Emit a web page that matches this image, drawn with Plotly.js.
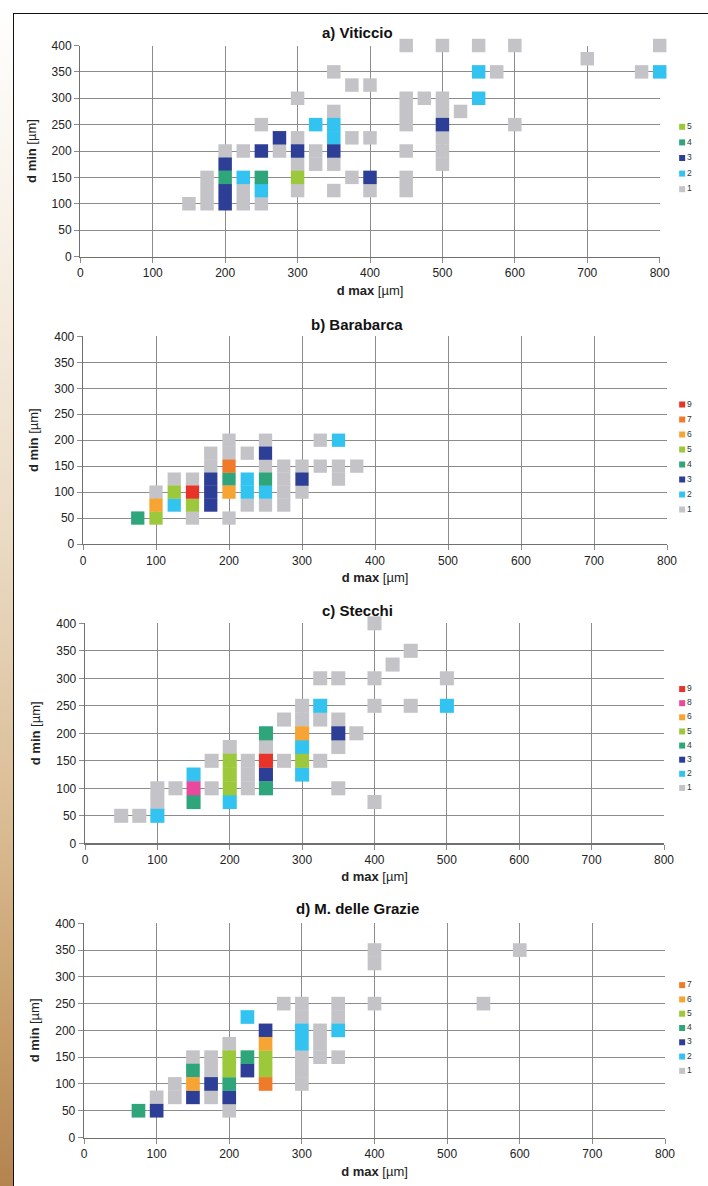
<!DOCTYPE html>
<html>
<head>
<meta charset="utf-8">
<script src="https://cdn.plot.ly/plotly-3.0.1.min.js"></script>
<style>
html,body{margin:0;padding:0;background:#fff;}
#wrap{position:relative;width:708px;height:1186px;overflow:hidden;background:#fff;}
#strip{position:absolute;left:0;top:0;width:14px;height:1186px;
  background:linear-gradient(to bottom,#ffffff 0%,#f7f0e6 20%,#eadbc4 45%,#d9bb92 70%,#c49a66 88%,#b4844f 100%);}
#frame{position:absolute;left:13px;top:13px;width:700px;height:1180px;border-left:1.5px solid #111;border-top:1.5px solid #111;background:#fff;}
#chart{position:absolute;left:0;top:0;width:708px;height:1186px;}
</style>
</head>
<body>
<div id="wrap"><div id="strip"></div><div id="frame"></div><div id="chart"></div></div>
<script>
// ---------------- DATA ----------------
// count classes and their colours
const countClasses = [1, 2, 3, 4, 5, 6, 7, 8, 9];
const countColors = ['#c4c4c8', '#33c3f0', '#2d3e96', '#2ea57b', '#9cc83c', '#f6a434', '#ef7a2a', '#e8499c', '#e83329'];

// a) Viticcio
const viticcioDmax = [150,175,175,175,200,225,225,225,250,250,275,300,300,300,300,325,325,350,350,350,350,375,375,375,400,400,400,450,450,450,450,450,450,450,475,500,500,500,500,500,500,525,550,575,600,600,700,775,800,
  225,250,325,350,350,550,550,800,
  200,200,200,250,275,300,350,400,500,
  200,250,
  300];
const viticcioDmin = [100,100,125,150,200,200,125,100,250,100,200,300,225,175,125,200,175,350,275,175,125,325,225,150,325,225,125,400,300,275,250,200,150,125,300,400,300,275,225,200,175,275,400,350,400,250,375,350,400,
  150,125,250,250,225,350,300,350,
  175,125,100,200,225,200,200,150,250,
  150,150,
  150];
const viticcioCount = [1,1,1,1,1,1,1,1,1,1,1,1,1,1,1,1,1,1,1,1,1,1,1,1,1,1,1,1,1,1,1,1,1,1,1,1,1,1,1,1,1,1,1,1,1,1,1,1,1,
  2,2,2,2,2,2,2,2,
  3,3,3,3,3,3,3,3,3,
  4,4,
  5];
const viticcioLegend = [1, 2, 3, 4, 5];

// b) Barabarca
const barabarcaDmax = [100,125,150,150,175,175,200,200,200,225,225,250,250,250,275,275,275,275,300,300,325,325,350,350,375,
  125,225,225,250,350,
  175,175,175,250,300,
  75,200,250,
  100,125,150,
  100,200,
  200,
  150];
const barabarcaDmin = [100,125,125,50,175,150,200,175,50,175,75,200,150,75,150,125,100,75,150,100,200,150,150,125,150,
  75,125,100,100,200,
  125,100,75,175,125,
  50,125,125,
  50,100,75,
  75,100,
  150,
  100];
const barabarcaCount = [1,1,1,1,1,1,1,1,1,1,1,1,1,1,1,1,1,1,1,1,1,1,1,1,1,
  2,2,2,2,2,
  3,3,3,3,3,
  4,4,4,
  5,5,5,
  6,6,
  7,
  9];
const barabarcaLegend = [1, 2, 3, 4, 5, 6, 7, 9];

// c) Stecchi
const stecchiDmax = [50,75,100,100,125,175,175,200,225,225,225,250,275,275,300,300,325,325,325,350,350,350,350,375,400,400,400,400,425,450,450,500,
  100,150,200,300,300,325,500,
  250,350,
  150,250,250,
  200,200,200,300,
  300,
  150,
  250];
const stecchiDmin = [50,50,100,75,100,150,100,175,150,125,100,175,225,150,250,225,300,225,150,300,225,175,100,200,400,300,250,75,325,350,250,300,
  50,125,75,175,125,250,250,
  125,200,
  75,200,100,
  150,125,100,150,
  200,
  100,
  150];
const stecchiCount = [1,1,1,1,1,1,1,1,1,1,1,1,1,1,1,1,1,1,1,1,1,1,1,1,1,1,1,1,1,1,1,1,
  2,2,2,2,2,2,2,
  3,3,
  4,4,4,
  5,5,5,5,
  6,
  8,
  9];
const stecchiLegend = [1, 2, 3, 4, 5, 6, 8, 9];

// d) M. delle Grazie
const grazieDmax = [100,125,125,150,175,175,175,200,200,275,300,300,300,300,300,325,325,325,350,350,350,400,400,400,550,600,
  225,300,300,350,
  100,150,175,200,225,250,
  75,150,200,225,
  200,200,250,250,
  150,250,
  250];
const grazieDmin = [75,100,75,150,150,125,75,175,50,250,250,225,150,125,100,200,175,150,250,225,150,350,325,250,250,350,
  225,200,175,200,
  50,75,100,75,125,200,
  50,125,100,150,
  150,125,150,125,
  100,175,
  100];
const grazieCount = [1,1,1,1,1,1,1,1,1,1,1,1,1,1,1,1,1,1,1,1,1,1,1,1,1,1,
  2,2,2,2,
  3,3,3,3,3,3,
  4,4,4,4,
  5,5,5,5,
  6,6,
  7];
const grazieLegend = [1, 2, 3, 4, 5, 6, 7];

const panelTitles = ['a) Viticcio', 'b) Barabarca', 'c) Stecchi', 'd) M. delle Grazie'];
const xTickVals = [0, 100, 200, 300, 400, 500, 600, 700, 800];
const yTickVals = [0, 50, 100, 150, 200, 250, 300, 350, 400];

// ---------------- LAYOUT (pixels) ----------------
const W = 708, H = 1186;
const FONT = 'Liberation Sans, Arial, sans-serif';
const panels = [
  {dmax: viticcioDmax, dmin: viticcioDmin, count: viticcioCount, legend: viticcioLegend},
  {dmax: barabarcaDmax, dmin: barabarcaDmin, count: barabarcaCount, legend: barabarcaLegend},
  {dmax: stecchiDmax, dmin: stecchiDmin, count: stecchiCount, legend: stecchiLegend},
  {dmax: grazieDmax, dmin: grazieDmin, count: grazieCount, legend: grazieLegend}
];
const boxes = [
  {left: 80.3, right: 659.7, top: 45.5, bottom: 256.5, titleY: 33, legTop: 119, legBot: 197},
  {left: 83, right: 667, top: 336.4, bottom: 544, titleY: 324, legTop: 397, legBot: 517},
  {left: 85, right: 664, top: 623.3, bottom: 843.3, titleY: 610, legTop: 682, legBot: 795},
  {left: 84, right: 665, top: 923.3, bottom: 1137.5, titleY: 908, legTop: 978, legBot: 1078}
];

const data = [];
const layout = {
  width: W, height: H,
  margin: {l: 0, r: 0, t: 0, b: 0},
  paper_bgcolor: 'rgba(0,0,0,0)',
  plot_bgcolor: 'rgba(0,0,0,0)',
  showlegend: false,
  font: {family: FONT, color: '#222', size: 12},
  annotations: []
};

panels.forEach((p, k) => {
  const i = k + 1;
  const b = boxes[k];
  const sx = i === 1 ? '' : String(i);
  const xDom = [b.left / W, b.right / W];
  const yDom = [1 - b.bottom / H, 1 - b.top / H];
  const axCommon = {
    showgrid: true, gridcolor: '#8c8c8c', gridwidth: 1,
    zeroline: false, showline: true, linecolor: '#707070', linewidth: 1.3,
    ticks: 'outside', ticklen: 5, tickcolor: '#8c8c8c', tickwidth: 1,
    tickfont: {family: FONT, size: 12, color: '#222'},
    fixedrange: true, automargin: false
  };
  layout['xaxis' + sx] = Object.assign({}, axCommon, {
    domain: xDom, range: [0, 800], tickvals: xTickVals, anchor: 'y' + sx,
    title: {text: '<b>d max</b> [µm]', font: {family: FONT, size: 13, color: '#222'}, standoff: 6}
  });
  layout['yaxis' + sx] = Object.assign({}, axCommon, {
    domain: yDom, range: [0, 400], tickvals: yTickVals, anchor: 'x' + sx,
    title: {text: '<b>d min</b> [µm]', font: {family: FONT, size: 13, color: '#222'}, standoff: 12}
  });
  layout.annotations.push({
    text: '<b>' + panelTitles[k] + '</b>', xref: 'paper', yref: 'paper',
    x: 357 / W, y: 1 - b.titleY / H, xanchor: 'center', yanchor: 'middle',
    showarrow: false, font: {family: FONT, size: 15, color: '#111'}
  });

  const size = (b.bottom - b.top) / 16 + 0.3;
  p.legend.forEach(lv => {
    const idx = [];
    p.count.forEach((c, j) => { if (c === lv) idx.push(j); });
    data.push({
      type: 'scatter', mode: 'markers', name: String(lv),
      x: idx.map(j => p.dmax[j]), y: idx.map(j => p.dmin[j]),
      xaxis: 'x' + sx, yaxis: 'y' + sx, cliponaxis: false, hoverinfo: 'skip',
      marker: {symbol: 'square', size: size, color: countColors[countClasses.indexOf(lv)], line: {width: 0}}
    });
  });

  // legend drawn on its own small hidden axes
  const li = String(i + 4);
  layout['xaxis' + li] = {domain: [676 / W, 704 / W], range: [0, 1], visible: false, fixedrange: true, anchor: 'y' + li};
  layout['yaxis' + li] = {domain: [1 - b.legBot / H, 1 - b.legTop / H], type: 'category',
    categoryorder: 'array', categoryarray: p.legend.map(String),
    range: [-0.5, p.legend.length - 0.5], visible: false, fixedrange: true, anchor: 'x' + li};
  data.push({
    type: 'scatter', mode: 'markers+text',
    x: p.legend.map(() => 0.22), y: p.legend.map(String), text: p.legend.map(String),
    textposition: 'middle right', textfont: {family: FONT, size: 8.5, color: '#333'},
    xaxis: 'x' + li, yaxis: 'y' + li, cliponaxis: false, hoverinfo: 'skip',
    marker: {symbol: 'square', size: 6, color: p.legend.map(lv => countColors[countClasses.indexOf(lv)]), line: {width: 0}}
  });
});

Plotly.newPlot('chart', data, layout, {staticPlot: true, displayModeBar: false});
</script>
</body>
</html>
